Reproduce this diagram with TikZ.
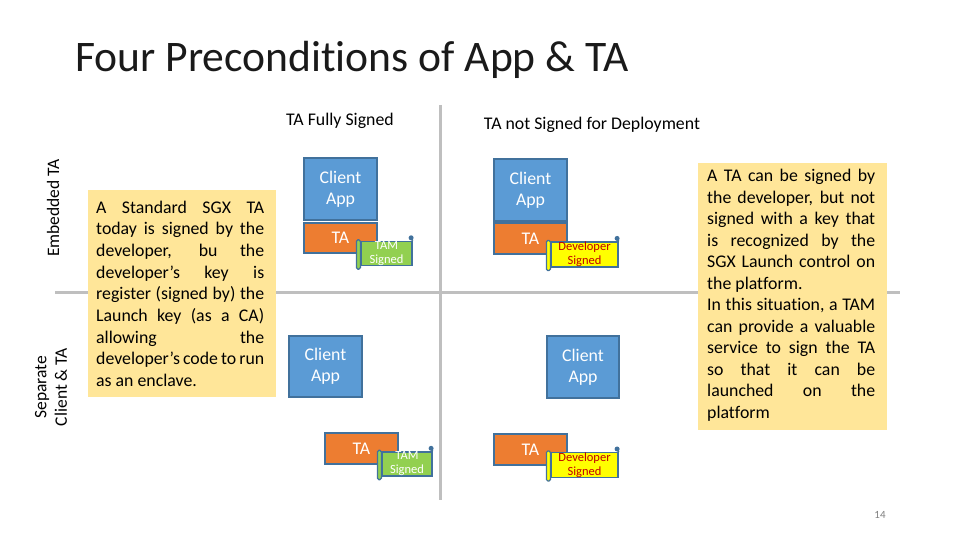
\documentclass[tikz,border=0pt]{standalone}
\usepackage{fontspec}
\setmainfont{Carlito}[Ligatures={NoCommon}]
\definecolor{gridgray}{HTML}{BFBFBF}
\definecolor{bordblue}{HTML}{41719C}
\definecolor{cablue}{HTML}{5B9BD5}
\definecolor{taorange}{HTML}{ED7D31}
\definecolor{tamgreen}{HTML}{92D050}
\definecolor{devyellow}{HTML}{FFFF00}
\definecolor{devred}{HTML}{C00000}
\definecolor{noteyellow}{HTML}{FFE699}
\definecolor{pggray}{HTML}{7F7F7F}
\definecolor{titleblack}{HTML}{1A1A1A}
\newcommand\jl[1]{\makebox[168pt][s]{#1}}
\begin{document}
\begin{tikzpicture}[x=1pt,y=-1pt,
  gridline/.style={draw=gridgray, line width=3pt},
  cabox/.style={draw=bordblue, fill=cablue, line width=1.5pt, text=white, align=center, inner sep=0pt, font=\fontsize{17.8}{21}\selectfont},
  tabox/.style={cabox, fill=taorange},
  scrollbody/.style={draw=bordblue, fill=#1, line width=1.2pt, inner sep=0pt, align=center, font=\fontsize{12.5}{14}\selectfont},
  scrollroll/.style={draw=bordblue, fill=#1, line width=1.2pt, rounded corners=1.5pt},
  curl/.style={fill=bordblue},
  curlline/.style={draw=bordblue, line width=1.6pt},
  notebox/.style={fill=noteyellow, draw=none, inner sep=0pt},
  notetext/.style={anchor=base west, inner sep=0pt, font=\fontsize{17.8}{21.6}\selectfont},
  headlbl/.style={inner sep=0pt, font=\fontsize{17.8}{20}\selectfont},
  sidelbl/.style={rotate=90, inner sep=0pt, align=center, font=\fontsize{17.5}{20.5}\selectfont}
]
\useasboundingbox (0,0) rectangle (960,540);

% title
\node[anchor=base west, inner sep=0pt, text=titleblack, font=\fontsize{43.6}{50}\selectfont] (title) at (75,72) {Four Preconditions of App \& TA};

% grid lines
\coordinate (vt) at (440,105);
\coordinate (vb) at (440,500);
\coordinate (hl) at (55,292);
\coordinate (hr) at (900,292);
\draw[gridline] (vt) -- (vb);
\draw[gridline] (hl) -- (hr);

% headings
\node[headlbl] (h1) at (340,121) {TA Fully Signed};
\node[headlbl] (h2) at (592,125) {TA not Signed for Deployment};
\node[sidelbl] (emb) at (53,208) {Embedded TA};
\node[sidelbl] (sep) at (51,387) {Separate\\Client \& TA};

% left note
\node[notebox, minimum width=188, minimum height=207] (lnote) at (182,293.5) {};
\foreach \t [count=\i] in {{\jl{A Standard SGX TA}},{\jl{today is signed by the}},{\jl{developer, bu the}},{\jl{developer’s key is}},{\jl{register (signed by) the}},{\jl{Launch key (as a CA)}},{\jl{allowing the}},{\jl{developer’s code to run}},{as an enclave.}}
  \node[notetext] (l\i) at (96,{213+21.7*(\i-1)}) {\t};

% right note
\node[notebox, minimum width=189, minimum height=267] (rnote) at (792.5,296.5) {};
\foreach \t [count=\i] in {{\jl{A TA can be signed by}},{\jl{the developer, but not}},{\jl{signed with a key that}},{\jl{is recognized by the}},{\jl{SGX Launch control on}},{the platform.},{\jl{In this situation, a TAM}},{\jl{can provide a valuable}},{\jl{service to sign the TA}},{\jl{so that it can be}},{\jl{launched on the}},{platform}}
  \node[notetext] (r\i) at (707,{181.5+21.5*(\i-1)}) {\t};

% top-left quadrant
\node[cabox, minimum width=73, minimum height=62] (ca1) at (340.5,189) {Client\\App};
\node[tabox, minimum width=73, minimum height=30] (ta1) at (340.5,238) {TA};
\node[scrollbody=tamgreen, text=white, minimum width=51, minimum height=23] (s1) at (386.5,253.5) {TAM\\Signed};
\draw[scrollroll=tamgreen] ([shift={(-4,-1)}]s1.north west) rectangle ([shift={(0,3)}]s1.south west);
\draw[curlline] (s1.north east) -- ([shift={(-1.5,-3)}]s1.north east);
\fill[curl] ([shift={(-1.5,-3)}]s1.north east) circle (2.5pt);

% top-right quadrant
\node[cabox, minimum width=73, minimum height=62] (ca2) at (530.5,190) {Client\\App};
\node[tabox, minimum width=73, minimum height=31] (ta2) at (530.5,238.5) {TA};
\node[scrollbody=devyellow, text=devred, minimum width=67, minimum height=25] (s2) at (584.5,254.5) {Developer\\Signed};
\draw[scrollroll=devyellow] ([shift={(-4,-1)}]s2.north west) rectangle ([shift={(0,3)}]s2.south west);
\draw[curlline] (s2.north east) -- ([shift={(-1.5,-3)}]s2.north east);
\fill[curl] ([shift={(-1.5,-3)}]s2.north east) circle (2.5pt);

% bottom-left quadrant
\node[cabox, minimum width=73, minimum height=61] (ca3) at (325.5,366.5) {Client\\App};
\node[tabox, minimum width=73, minimum height=31] (ta3) at (361.5,448.5) {TA};
\node[scrollbody=tamgreen, text=white, minimum width=50, minimum height=24] (s3) at (407,464) {TAM\\Signed};
\draw[scrollroll=tamgreen] ([shift={(-4,-1)}]s3.north west) rectangle ([shift={(0,3)}]s3.south west);
\draw[curlline] (s3.north east) -- ([shift={(-1.5,-3)}]s3.north east);
\fill[curl] ([shift={(-1.5,-3)}]s3.north east) circle (2.5pt);

% bottom-right quadrant
\node[cabox, minimum width=72, minimum height=62] (ca4) at (583,367) {Client\\App};
\node[tabox, minimum width=73, minimum height=31] (ta4) at (530.5,449.5) {TA};
\node[scrollbody=devyellow, text=devred, minimum width=67, minimum height=24] (s4) at (584.5,465) {Developer\\Signed};
\draw[scrollroll=devyellow] ([shift={(-4,-1)}]s4.north west) rectangle ([shift={(0,3)}]s4.south west);
\draw[curlline] (s4.north east) -- ([shift={(-1.5,-3)}]s4.north east);
\fill[curl] ([shift={(-1.5,-3)}]s4.north east) circle (2.5pt);

% page number
\node[inner sep=0pt, text=pggray, font=\fontsize{11}{13}\selectfont] (pg) at (880,515) {14};
\end{tikzpicture}
\end{document}
